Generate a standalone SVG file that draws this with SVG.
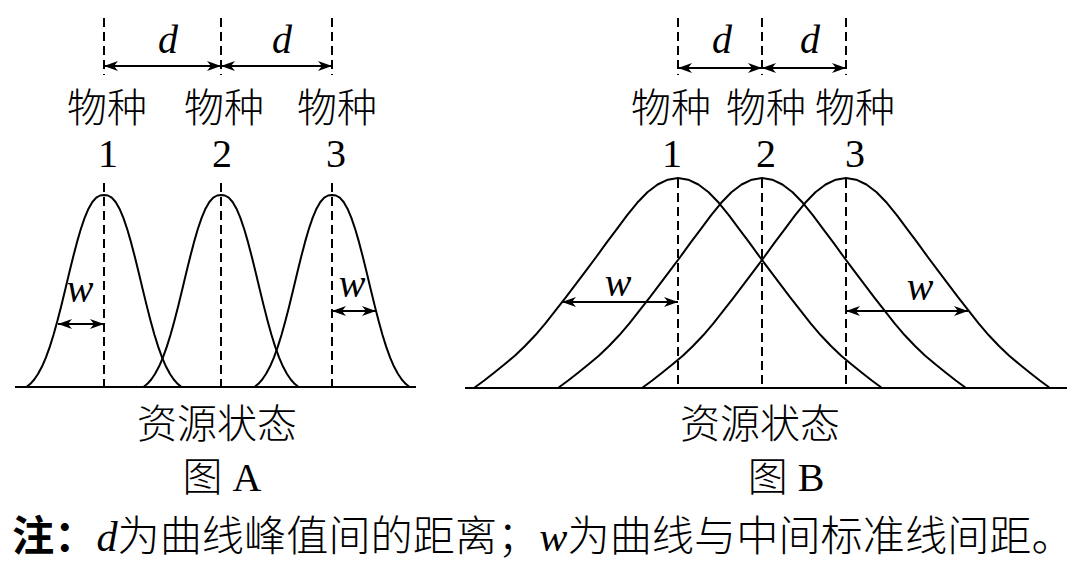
<svg xmlns="http://www.w3.org/2000/svg" xmlns:xlink="http://www.w3.org/1999/xlink" width="1080" height="569" viewBox="0 0 1080 569">
<style>
.ln{stroke:#000;stroke-width:2;fill:none}
.crv{stroke:#000;stroke-width:2;fill:none;stroke-linejoin:round}
.dash{stroke:#000;stroke-width:2;stroke-dasharray:9 5;fill:none}
.arr{stroke:#000;stroke-width:2;fill:none;marker-start:url(#ah);marker-end:url(#ah)}
.cjk{font-family:"Noto Sans CJK SC","Noto Sans CJK JP",sans-serif;font-size:40px;fill:#000;font-weight:300}
.num{font-family:"Liberation Serif","Times New Roman",serif;font-size:40px;fill:#000}
.it{font-family:"Liberation Serif","Times New Roman",serif;font-style:italic;font-size:40px;fill:#000}
.nt{font-size:42.2px}
</style>
<defs>
<marker id="ah" viewBox="0 0 14 10" refX="14" refY="5" markerWidth="14" markerHeight="10" markerUnits="userSpaceOnUse" orient="auto-start-reverse">
<path d="M0,0 L14,5 L0,10 L4,5 Z" fill="#000"/>
</marker>
<path id="curveA" class="crv" d="M-77.5,387 L-73.63,383.81 L-69.75,379.49 L-65.88,373.81 L-62,366.55 L-58.13,357.6 L-54.25,346.89 L-50.38,334.45 L-46.5,320.53 L-42.63,305.38 L-38.75,289.44 L-34.88,273.3 L-31,257.48 L-27.13,242.64 L-23.25,229.27 L-19.38,217.87 L-15.5,208.73 L-11.63,202.01 L-7.75,197.67 L-3.88,195.5 L0,195 L3.88,195.5 L7.75,197.67 L11.63,202.01 L15.5,208.73 L19.38,217.87 L23.25,229.27 L27.13,242.64 L31,257.48 L34.88,273.3 L38.75,289.44 L42.63,305.38 L46.5,320.53 L50.38,334.45 L54.25,346.89 L58.13,357.6 L62,366.55 L65.88,373.81 L69.75,379.49 L73.63,383.81 L77.5,387"/>
<path id="curveB" class="crv" d="M-204,388 L-193.8,380.44 L-183.6,372.46 L-173.4,364.27 L-163.2,355.66 L-153,346 L-142.8,335.29 L-132.6,323.32 L-122.4,310.3 L-112.2,297.28 L-102,283.84 L-91.8,270.4 L-81.6,256.75 L-71.4,242.68 L-61.2,229.03 L-51,215.38 L-40.8,202.78 L-30.6,192.28 L-20.4,184.51 L-10.2,179.68 L0,178 L10.2,179.68 L20.4,184.51 L30.6,192.28 L40.8,202.78 L51,215.38 L61.2,229.03 L71.4,242.68 L81.6,256.75 L91.8,270.4 L102,283.84 L112.2,297.28 L122.4,310.3 L132.6,323.32 L142.8,335.29 L153,346 L163.2,355.66 L173.4,364.27 L183.6,372.46 L193.8,380.44 L204,388"/>
</defs>
<rect width="1080" height="569" fill="#fff"/>

<g id="figureA">
  <line class="ln" x1="15" y1="387" x2="416" y2="387"/>
  <g id="A-guides">
    <line class="dash" x1="104" y1="18" x2="104" y2="75"/>
    <line class="dash" x1="221" y1="18" x2="221" y2="75"/>
    <line class="dash" x1="332" y1="18" x2="332" y2="75"/>
    <line class="dash" x1="104" y1="183" x2="104" y2="387"/>
    <line class="dash" x1="221" y1="183" x2="221" y2="387"/>
    <line class="dash" x1="332" y1="183" x2="332" y2="387"/>
  </g>
  <g id="A-species1"><use xlink:href="#curveA" transform="translate(104,0)"/></g>
  <g id="A-species2"><use xlink:href="#curveA" transform="translate(221,0)"/></g>
  <g id="A-species3"><use xlink:href="#curveA" transform="translate(332,0)"/></g>
  <g id="A-connectors">
    <line class="arr" x1="104" y1="66" x2="221" y2="66"/>
    <line class="arr" x1="221" y1="66" x2="332" y2="66"/>
    <line class="arr" x1="58" y1="324" x2="104" y2="324"/>
    <line class="arr" x1="332" y1="311" x2="376" y2="311"/>
  </g>
  <g id="A-labels">
    <text class="it" x="168" y="53" text-anchor="middle">d</text>
    <text class="it" x="282" y="53" text-anchor="middle">d</text>
    <text class="cjk" x="107" y="122" text-anchor="middle">物种</text>
    <text class="cjk" x="224" y="122" text-anchor="middle">物种</text>
    <text class="cjk" x="337" y="122" text-anchor="middle">物种</text>
    <text class="num" x="108" y="167" text-anchor="middle">1</text>
    <text class="num" x="222" y="167" text-anchor="middle">2</text>
    <text class="num" x="336" y="167" text-anchor="middle">3</text>
    <text class="it" x="80" y="302" text-anchor="middle">w</text>
    <text class="it" x="352" y="297" text-anchor="middle">w</text>
    <text class="cjk" x="217" y="438" text-anchor="middle">资源状态</text>
    <text x="222" y="491" text-anchor="middle"><tspan class="cjk">图</tspan><tspan class="num"> A</tspan></text>
  </g>
</g>

<g id="figureB">
  <line class="ln" x1="465" y1="388" x2="1067" y2="388"/>
  <g id="B-guides">
    <line class="dash" x1="678" y1="18" x2="678" y2="75"/>
    <line class="dash" x1="762" y1="18" x2="762" y2="75"/>
    <line class="dash" x1="846" y1="18" x2="846" y2="75"/>
    <line class="dash" x1="678" y1="179" x2="678" y2="388"/>
    <line class="dash" x1="762" y1="179" x2="762" y2="388"/>
    <line class="dash" x1="846" y1="179" x2="846" y2="388"/>
  </g>
  <g id="B-species1"><use xlink:href="#curveB" transform="translate(678,0)"/></g>
  <g id="B-species2"><use xlink:href="#curveB" transform="translate(762,0)"/></g>
  <g id="B-species3"><use xlink:href="#curveB" transform="translate(846,0)"/></g>
  <g id="B-connectors">
    <line class="arr" x1="678" y1="68" x2="762" y2="68"/>
    <line class="arr" x1="762" y1="68" x2="846" y2="68"/>
    <line class="arr" x1="562" y1="302" x2="678" y2="302"/>
    <line class="arr" x1="846" y1="311" x2="968" y2="311"/>
  </g>
  <g id="B-labels">
    <text class="it" x="722" y="53" text-anchor="middle">d</text>
    <text class="it" x="810" y="53" text-anchor="middle">d</text>
    <text class="cjk" x="671" y="122" text-anchor="middle">物种</text>
    <text class="cjk" x="766" y="122" text-anchor="middle">物种</text>
    <text class="cjk" x="855" y="122" text-anchor="middle">物种</text>
    <text class="num" x="672" y="167" text-anchor="middle">1</text>
    <text class="num" x="766" y="167" text-anchor="middle">2</text>
    <text class="num" x="855" y="167" text-anchor="middle">3</text>
    <text class="it" x="618" y="296" text-anchor="middle">w</text>
    <text class="it" x="920" y="300" text-anchor="middle">w</text>
    <text class="cjk" x="760" y="438" text-anchor="middle">资源状态</text>
    <text x="786" y="491" text-anchor="middle"><tspan class="cjk">图</tspan><tspan class="num"> B</tspan></text>
  </g>
</g>

<g id="note">
  <text x="12" y="551"><tspan class="cjk nt" style="font-weight:700">注：</tspan><tspan class="it nt">d</tspan><tspan class="cjk nt">为曲线峰值间的距离；</tspan><tspan class="it nt">w</tspan><tspan class="cjk nt">为曲线与中间标准线间距。</tspan></text>
</g>
</svg>
